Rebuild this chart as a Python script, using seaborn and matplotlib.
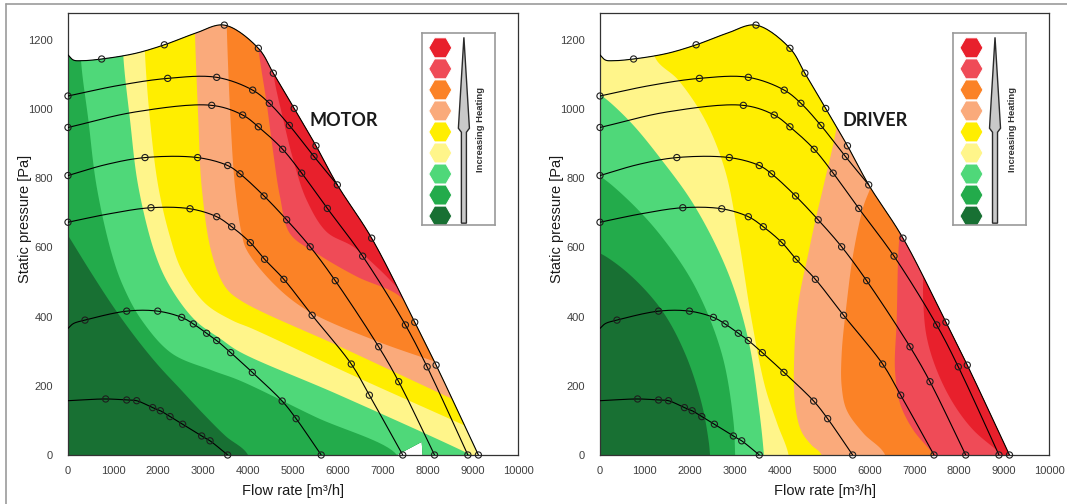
import numpy as np
import matplotlib
matplotlib.use("Agg")
import matplotlib.pyplot as plt
import seaborn as sns
from matplotlib.patches import Polygon
from matplotlib.lines import Line2D

# heating classes, coolest -> hottest
heat_names = ["dark green", "green", "light green", "light yellow", "yellow",
              "peach", "orange", "pink", "red"]
heat_colors = ["#187033", "#23AB4B", "#4FD879", "#FFF58A", "#FFEE00",
               "#FAAA7B", "#FB8226", "#EF4B57", "#E8202C"]

# fan curves: flow [m3/h], static pressure [Pa], 1 = circle marker
env_q = [0, 120, 300, 748, 1489, 2141, 2822, 3474, 4230, 4563, 5027, 5511, 5985, 6748, 7705, 8180, 9120]
env_p = [1157, 1142, 1140, 1145, 1161, 1186, 1219, 1243, 1176, 1104, 1002, 894, 781, 627, 384, 260, 0]
env_m = [0, 0, 0, 1, 0, 1, 0, 1, 1, 1, 1, 1, 1, 1, 1, 1, 1]

c2_q = [0, 1100, 2215, 3304, 4104, 4474, 4919, 5467, 5985]
c2_p = [1038, 1068, 1089, 1092, 1055, 1017, 953, 863, 781]
c2_m = [1, 0, 1, 1, 1, 1, 1, 1, 0]

c3_q = [0, 1500, 3193, 3881, 4230, 4770, 5193, 5763, 6548, 7498, 7980, 8886]
c3_p = [947, 992, 1011, 983, 949, 884, 815, 713, 575, 376, 255, 0]
c3_m = [1, 0, 1, 1, 1, 1, 1, 1, 1, 1, 1, 1]

c4_q = [0, 850, 1711, 2881, 3548, 3822, 4356, 4859, 5382, 5939, 6904, 7349, 8145]
c4_p = [808, 840, 860, 860, 837, 813, 749, 680, 602, 504, 313, 212, 0]
c4_m = [1, 0, 1, 1, 1, 1, 1, 1, 1, 1, 1, 1, 1]

c5_q = [0, 900, 1844, 2711, 3304, 3637, 4052, 4369, 4797, 5425, 6295, 6697, 7439]
c5_p = [673, 697, 715, 712, 689, 660, 614, 566, 508, 404, 263, 173, 0]
c5_m = [1, 0, 1, 1, 1, 1, 1, 1, 1, 1, 1, 1, 1]

c6_q = [0, 120, 378, 1304, 1993, 2526, 2785, 3081, 3304, 3615, 4096, 4759, 5070, 5627]
c6_p = [366, 380, 390, 416, 416, 398, 379, 352, 331, 296, 239, 156, 105, 0]
c6_m = [0, 0, 1, 1, 1, 1, 1, 1, 1, 1, 1, 1, 1, 1]

c7_q = [0, 837, 1304, 1526, 1881, 2052, 2267, 2548, 2970, 3156, 3548]
c7_p = [157, 162, 159, 157, 137, 128, 111, 89, 55, 41, 0]
c7_m = [0, 1, 1, 1, 1, 1, 1, 1, 1, 1, 1]

# MOTOR band boundaries (each one separates a class from the next hotter one)
mb1_q = [-100, 0, 500, 1000, 1500, 2000, 2500, 3000, 3500, 4000, 4100]
mb1_p = [655, 635, 530, 430, 340, 260, 190, 120, 55, 0, -100]
mb2_q = [270, 289, 452, 637, 970, 1230, 1637, 2304, 3193, 3822, 5500, 7310, 7400]
mb2_p = [1300, 1142, 969, 776, 583, 487, 390, 294, 245, 215, 110, 0, -60]
mb3_q = [1200, 1230, 1378, 1563, 1933, 2267, 2822, 3400, 3822, 6000, 8800, 9400]
mb3_p = [1300, 1152, 969, 776, 583, 487, 390, 335, 298, 175, 10, -30]
mb4_q = [1690, 1711, 1822, 2007, 2267, 2526, 3044, 3637, 4100, 6300, 8785, 9500]
mb4_p = [1300, 1161, 969, 776, 631, 535, 439, 390, 365, 232, 87, 45]
mb5_q = [2810, 2822, 2896, 2970, 3193, 3489, 3822, 6100, 8489, 9500]
mb5_p = [1320, 1219, 969, 776, 583, 487, 448, 310, 165, 104]
mb6_q = [3520, 3526, 3600, 3711, 3859, 3970, 4563, 5304, 6785, 8267, 9500]
mb6_p = [1320, 1250, 1000, 776, 640, 593, 496, 419, 333, 265, 210]
mb7_q = [4150, 4230, 4415, 4563, 4711, 4933, 5526, 6415, 7378, 7748, 8200]
mb7_p = [1300, 1176, 1017, 872, 747, 640, 583, 516, 458, 385, 300]
mb8_q = [4480, 4563, 4785, 5007, 5304, 5748, 6341, 6933, 7378, 7700]
mb8_p = [1250, 1104, 969, 853, 737, 645, 602, 535, 477, 440]
motor_floor_q = [7880, 7860, 7310, 0]
motor_floor_p = [0, 38, 0, 0]

# DRIVER band boundaries
db1_q = [-100, 0, 631, 1374, 1893, 2264, 2420, 2450, 2500]
db1_p = [585, 583, 525, 419, 294, 149, 40, 0, -100]
db2_q = [-100, 0, 631, 1374, 2116, 2710, 2969, 3010, 3030]
db2_p = [807, 805, 737, 631, 487, 294, 101, 0, -100]
db3_q = [-100, 0, 631, 1374, 2116, 2858, 3303, 3526, 3650, 3680]
db3_p = [1043, 1041, 969, 853, 718, 525, 333, 149, 0, -100]
db4_q = [1150, 1225, 1744, 2339, 2784, 3081, 3378, 3675, 3950, 4200, 4250]
db4_p = [1300, 1150, 1084, 969, 824, 631, 390, 198, 90, 0, -100]
db5_q = [5350, 5271, 5000, 4800, 4640, 4417, 4328, 4343, 4480, 4700, 4937, 5000]
db5_p = [1050, 949, 790, 680, 583, 439, 294, 149, 70, 30, 0, -100]
db6_q = [6150, 6051, 5865, 5642, 5494, 5383, 5383, 5494, 5865, 6350, 6400]
db6_p = [900, 786, 718, 583, 439, 294, 198, 130, 63, 0, -100]
db7_q = [6750, 6682, 6644, 6608, 6570, 6682, 6978, 7350, 7420, 7450]
db7_p = [750, 651, 583, 390, 246, 149, 72, 14, 0, -100]
db8_q = [7250, 7201, 7201, 7275, 7498, 7869, 8315, 8835, 8950, 8980]
db8_p = [620, 525, 439, 342, 246, 149, 72, 14, 0, -100]
driver_floor_q = [0]
driver_floor_p = [0]

PX_Q = 0.045   # pixels per m3/h
PX_P = 0.3458  # pixels per Pa


def smooth(q, p, n=16):
    # centripetal catmull-rom through the read points (pixel space)
    pts = np.column_stack([np.asarray(q, float) * PX_Q, np.asarray(p, float) * PX_P])
    ext = np.vstack([2 * pts[0] - pts[1], pts, 2 * pts[-1] - pts[-2]])
    out = []
    for i in range(len(pts) - 1):
        p0, p1, p2, p3 = ext[i:i + 4]
        t0 = 0.0
        t1 = t0 + np.linalg.norm(p1 - p0) ** 0.5 + 1e-6
        t2 = t1 + np.linalg.norm(p2 - p1) ** 0.5 + 1e-6
        t3 = t2 + np.linalg.norm(p3 - p2) ** 0.5 + 1e-6
        t = np.linspace(t1, t2, n, endpoint=False)[:, None]
        a1 = (t1 - t) / (t1 - t0) * p0 + (t - t0) / (t1 - t0) * p1
        a2 = (t2 - t) / (t2 - t1) * p1 + (t - t1) / (t2 - t1) * p2
        a3 = (t3 - t) / (t3 - t2) * p2 + (t - t2) / (t3 - t2) * p3
        b1 = (t2 - t) / (t2 - t0) * a1 + (t - t0) / (t2 - t0) * a2
        b2 = (t3 - t) / (t3 - t1) * a2 + (t - t1) / (t3 - t1) * a3
        out.append((t2 - t) / (t2 - t1) * b1 + (t - t1) / (t2 - t1) * b2)
    out.append(pts[-1:])
    out = np.vstack(out)
    return out[:, 0] / PX_Q, out[:, 1] / PX_P


def draw_bands(ax, bounds, floor_q, floor_p):
    eq, ep = smooth(env_q, env_p)
    xs = np.r_[eq, floor_q]
    ys = np.r_[ep, floor_p]
    clip = Polygon(np.column_stack([xs, ys]), closed=True, transform=ax.transData)
    ax.fill(xs, ys, color=heat_colors[0], lw=0, zorder=1)
    for (bq, bp), col in zip(bounds, heat_colors[1:]):
        sq, sp = smooth(bq, bp)
        px = np.r_[sq, 15000, 15000, sq[0]]
        py = np.r_[sp, -300, 1600, 1600]
        patch = ax.fill(px, py, color=col, lw=0, zorder=1)[0]
        patch.set_clip_path(clip)


def draw_curves(ax):
    curves = [(env_q, env_p, env_m), (c2_q, c2_p, c2_m), (c3_q, c3_p, c3_m),
              (c4_q, c4_p, c4_m), (c5_q, c5_p, c5_m), (c6_q, c6_p, c6_m),
              (c7_q, c7_p, c7_m)]
    for q, p, m in curves:
        sq, sp = smooth(q, p)
        sns.lineplot(x=sq, y=sp, sort=False, estimator=None, color="black",
                     lw=0.8, ax=ax, zorder=3)
        m = np.asarray(m, bool)
        sns.scatterplot(x=np.asarray(q)[m], y=np.asarray(p)[m], s=20,
                        color="none", edgecolor="#1e1e1e", linewidth=0.8,
                        ax=ax, zorder=4, clip_on=False)


def draw_key(ax):
    lax = ax.inset_axes([0.786, 0.52, 0.163, 0.434])
    key_y = [14.5 + 21.05 * i for i in range(9)]
    sns.scatterplot(x=[18.5] * 9, y=key_y, hue=heat_names[::-1],
                    palette=heat_colors[::-1], marker="H", s=275,
                    edgecolor="white", linewidth=0.7, legend=False, ax=lax)
    arrow = Polygon([(42, 4), (47.5, 95), (44.5, 99), (44.5, 190), (39.5, 190),
                     (39.5, 99), (36.5, 95)], closed=True, fc="#c9c9c9",
                    ec="#2a2a2a", lw=1.0)
    lax.add_patch(arrow)
    lax.text(59, 96, "Increasing Heating", rotation=90, ha="center", va="center",
             fontsize=6.8, fontweight="bold", color="#333333")
    lax.set_xlim(0, 73)
    lax.set_ylim(192, 0)
    lax.set_xticks([])
    lax.set_yticks([])
    lax.set_xlabel("")
    lax.set_ylabel("")
    for s in lax.spines.values():
        s.set_color("#9a9a9a")
        s.set_linewidth(1.2)


def style_axes(ax, title):
    ax.set_xlim(0, 10000)
    ax.set_ylim(0, 1278)
    ax.set_xticks(np.arange(0, 10001, 1000))
    ax.set_xticks(np.arange(0, 10001, 250), minor=True)
    ax.set_yticks(np.arange(0, 1201, 200))
    ax.set_yticks(np.arange(0, 1251, 50), minor=True)
    ax.tick_params(axis="both", which="both", direction="out", color="black",
                   width=0.8, labelsize=8, labelcolor="#404040")
    ax.tick_params(axis="y", which="major", length=6, pad=5)
    ax.tick_params(axis="y", which="minor", length=3.5)
    ax.tick_params(axis="x", which="major", length=5, pad=3)
    ax.tick_params(axis="x", which="minor", length=3)
    ax.set_xlabel("Flow rate [m³/h]", fontsize=10.5, labelpad=6, color="#1a1a1a")
    ax.set_ylabel("Static pressure [Pa]", fontsize=10.5, color="#1a1a1a")
    ax.yaxis.set_label_coords(-0.081, 0.535)
    for s in ax.spines.values():
        s.set_color("#333333")
        s.set_linewidth(0.9)
    ax.text(6130, 966, title, ha="center", va="center", fontsize=13,
            fontweight="bold", family="Lato", color="#1a1a1a", zorder=5)


def main():
    sns.set_style("white")
    plt.rcParams["font.family"] = ["Liberation Sans", "DejaVu Sans"]

    fig = plt.figure(figsize=(10.67, 5.04), dpi=100)
    ax1 = fig.add_axes([68 / 1067, 49 / 504, 450 / 1067, 442 / 504])
    ax2 = fig.add_axes([600 / 1067, 49 / 504, 449 / 1067, 442 / 504])

    motor_bounds = [(mb1_q, mb1_p), (mb2_q, mb2_p), (mb3_q, mb3_p), (mb4_q, mb4_p),
                    (mb5_q, mb5_p), (mb6_q, mb6_p), (mb7_q, mb7_p), (mb8_q, mb8_p)]
    driver_bounds = [(db1_q, db1_p), (db2_q, db2_p), (db3_q, db3_p), (db4_q, db4_p),
                     (db5_q, db5_p), (db6_q, db6_p), (db7_q, db7_p), (db8_q, db8_p)]

    for ax, bounds, fq, fp, title in [
            (ax1, motor_bounds, motor_floor_q, motor_floor_p, "MOTOR"),
            (ax2, driver_bounds, driver_floor_q, driver_floor_p, "DRIVER")]:
        draw_bands(ax, bounds, fq, fp)
        draw_curves(ax)
        style_axes(ax, title)
        draw_key(ax)

    # outer frame of the screenshot
    fig.add_artist(Line2D([6 / 1067, 6 / 1067], [0, 1 - 4 / 504], color="#9b9b9b", lw=1.2))
    fig.add_artist(Line2D([6 / 1067, 1], [1 - 4 / 504, 1 - 4 / 504], color="#9b9b9b", lw=1.2))

    fig.savefig("out.png", dpi=100)


main()
